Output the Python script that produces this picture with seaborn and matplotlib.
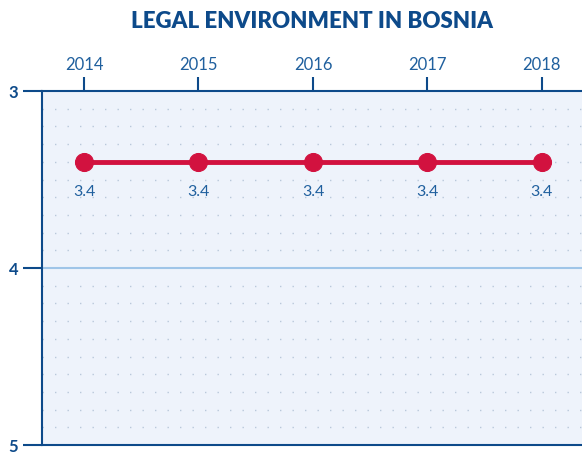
import matplotlib
matplotlib.use('Agg')
import matplotlib.pyplot as plt
import numpy as np
import pandas as pd
import seaborn as sns

years = [2014, 2015, 2016, 2017, 2018]
scores = [3.4, 3.4, 3.4, 3.4, 3.4]
labels = ['3.4', '3.4', '3.4', '3.4', '3.4']
y_ticks = [3, 4, 5]

navy = '#0d4a8a'
blue = '#20609e'
red = '#d2123f'

sns.set_style('white')
plt.rcParams['font.family'] = ['Lato', 'DejaVu Sans']

df = pd.DataFrame({'year': years, 'score': scores})

fig = plt.figure(figsize=(5.82, 4.56), dpi=100)
ax = fig.add_axes([42/582, 10/456, 1 - 42/582, 354/456])
ax.set_facecolor('#eef3fb')

# dotted grid every 0.1
for yv in np.arange(3.1, 5.0, 0.1):
    if abs(yv - 4) < 1e-6:
        continue
    ax.axhline(yv, color='#b9c8da', lw=1.0, linestyle=(0, (1, 8)), zorder=1)
ax.axhline(4, color='#9fc5e8', lw=1.5, zorder=1)

sns.lineplot(data=df, x='year', y='score', ax=ax, color=red, lw=3.5,
             marker='o', markersize=13, markeredgecolor=red, zorder=3)

for x, y, t in zip(years, scores, labels):
    ax.annotate(t, (x, y), xytext=(0, -21), textcoords='offset points',
                ha='center', va='center', fontsize=11.5, color=blue)

ax.set_xlim(2013.633, 2018.35)
ax.set_ylim(5, 3)
ax.set_xticks(years)
ax.set_yticks(y_ticks)
ax.set_yticklabels([str(v) for v in y_ticks], fontweight='bold')
ax.xaxis.tick_top()
ax.tick_params(axis='x', top=True, bottom=False, direction='out', length=10,
               width=1.5, color=navy, labelcolor=blue, labelsize=12, pad=4)
ax.tick_params(axis='y', left=True, direction='out', length=14, width=1.5,
               color=navy, labelcolor=navy, labelsize=12, pad=3)
ax.set_xlabel('')
ax.set_ylabel('')
for s in ['top', 'left', 'bottom']:
    ax.spines[s].set_color(navy)
    ax.spines[s].set_linewidth(1.5)
ax.spines['right'].set_visible(False)

fig.text(312/582, 1 - 22/456, 'LEGAL ENVIRONMENT IN BOSNIA', ha='center', va='center',
         fontsize=16, fontweight='heavy', color=navy)

fig.savefig('out.png', dpi=100)
